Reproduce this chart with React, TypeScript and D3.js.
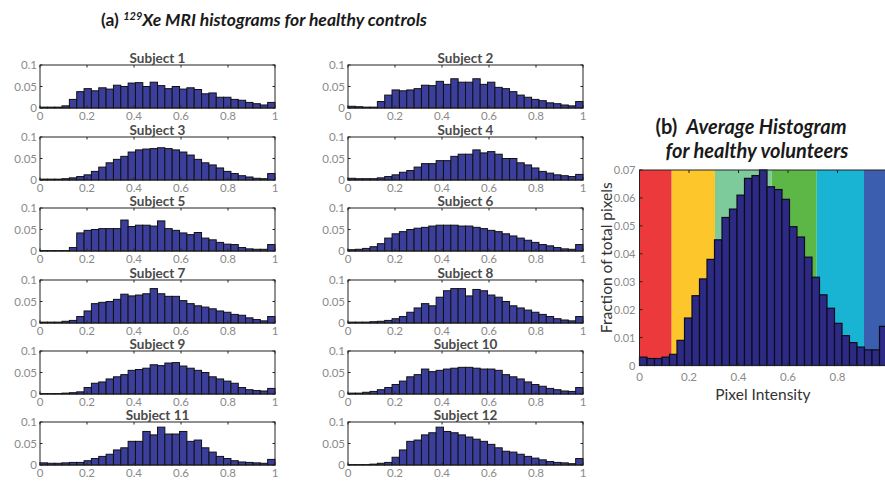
import React from "react";
import * as d3 from "d3";

const subjects = [
  "Subject 1", "Subject 2", "Subject 3", "Subject 4", "Subject 5", "Subject 6",
  "Subject 7", "Subject 8", "Subject 9", "Subject 10", "Subject 11", "Subject 12",
];

const s1 = [0.002,0.002,0.002,0.005,0.02,0.038,0.045,0.04,0.047,0.044,0.053,0.05,0.058,0.059,0.05,0.06,0.052,0.045,0.05,0.044,0.047,0.043,0.033,0.035,0.025,0.025,0.02,0.018,0.013,0.01,0.007,0.013];
const s2 = [0.004,0.003,0.002,0.002,0.015,0.03,0.042,0.04,0.042,0.045,0.053,0.052,0.062,0.055,0.068,0.06,0.06,0.068,0.055,0.06,0.048,0.045,0.038,0.03,0.025,0.02,0.017,0.012,0.01,0.007,0.005,0.015];
const s3 = [0.002,0.002,0.002,0.003,0.005,0.008,0.012,0.02,0.03,0.04,0.048,0.055,0.065,0.07,0.072,0.073,0.075,0.073,0.07,0.065,0.058,0.048,0.04,0.035,0.028,0.02,0.015,0.01,0.007,0.004,0.003,0.015];
const s4 = [0.004,0.003,0.003,0.003,0.005,0.008,0.012,0.018,0.022,0.03,0.038,0.038,0.045,0.045,0.055,0.06,0.06,0.07,0.063,0.066,0.06,0.05,0.05,0.04,0.035,0.028,0.02,0.016,0.012,0.01,0.008,0.013];
const s5 = [0.001,0.001,0.001,0.001,0.008,0.042,0.048,0.05,0.052,0.052,0.052,0.072,0.057,0.06,0.06,0.058,0.07,0.052,0.048,0.042,0.038,0.043,0.03,0.026,0.02,0.016,0.015,0.008,0.005,0.004,0.004,0.015];
const s6 = [0.003,0.004,0.006,0.01,0.017,0.03,0.04,0.045,0.05,0.053,0.055,0.058,0.06,0.06,0.06,0.058,0.058,0.055,0.052,0.048,0.045,0.04,0.035,0.03,0.025,0.02,0.015,0.012,0.008,0.005,0.004,0.015];
const s7 = [0.002,0.002,0.002,0.004,0.006,0.015,0.028,0.045,0.048,0.05,0.055,0.067,0.063,0.065,0.068,0.08,0.068,0.062,0.062,0.052,0.045,0.04,0.037,0.033,0.028,0.025,0.02,0.018,0.012,0.008,0.005,0.015];
const s8 = [0.002,0.002,0.002,0.003,0.004,0.006,0.01,0.015,0.025,0.035,0.045,0.04,0.06,0.075,0.08,0.08,0.063,0.078,0.075,0.065,0.06,0.05,0.04,0.035,0.03,0.025,0.02,0.015,0.01,0.007,0.005,0.015];
const s9 = [0.001,0.001,0.001,0.002,0.003,0.005,0.015,0.025,0.028,0.035,0.04,0.045,0.055,0.057,0.06,0.068,0.066,0.072,0.073,0.065,0.06,0.055,0.05,0.04,0.035,0.03,0.025,0.015,0.01,0.008,0.007,0.013];
const s10 = [0.002,0.002,0.004,0.006,0.01,0.015,0.022,0.03,0.04,0.045,0.058,0.052,0.055,0.058,0.06,0.062,0.062,0.06,0.058,0.058,0.055,0.045,0.04,0.035,0.028,0.022,0.018,0.013,0.01,0.007,0.006,0.015];
const s11 = [0.005,0.004,0.004,0.005,0.006,0.006,0.01,0.015,0.02,0.025,0.035,0.04,0.055,0.055,0.078,0.07,0.088,0.072,0.072,0.078,0.055,0.058,0.04,0.03,0.02,0.015,0.01,0.007,0.006,0.005,0.004,0.013];
const s12 = [0.001,0.001,0.001,0.002,0.004,0.006,0.018,0.035,0.055,0.058,0.07,0.075,0.088,0.078,0.075,0.07,0.065,0.06,0.055,0.048,0.04,0.032,0.03,0.025,0.02,0.016,0.012,0.008,0.006,0.005,0.003,0.015];
const subjectValues = [s1, s2, s3, s4, s5, s6, s7, s8, s9, s10, s11, s12];

const smallXTicks = [0, 0.2, 0.4, 0.6, 0.8, 1];
const smallYTicks = [0, 0.05, 0.1];

const averageValues = [0.003,0.0025,0.0025,0.003,0.004,0.009,0.017,0.025,0.031,0.038,0.045,0.053,0.056,0.061,0.067,0.068,0.07,0.064,0.063,0.0595,0.0497,0.046,0.0388,0.0316,0.0253,0.0205,0.0151,0.0107,0.0082,0.0066,0.0056,0.0056,0.014];
const bigXTicks = [0, 0.2, 0.4, 0.6, 0.8, 1];
const bigYTicks = [0, 0.01, 0.02, 0.03, 0.04, 0.05, 0.06, 0.07];
const bandEdges = [0, 0.13, 0.305, 0.534, 0.716, 0.907, 1];
const bandColors = ["#ec3a3c", "#fdc72c", "#7dcb9a", "#5db746", "#19b4d3", "#3b5fae"];

const FONT = "Lato, 'Open Sans', sans-serif";
const GRAY = "#8a8a8a";

function fmt(v: number) {
  if (v === 0) return "0";
  return String(+v.toFixed(3));
}

function SmallHist({ x0, top, title, values }: { x0: number; top: number; title: string; values: number[] }) {
  const w = 235, h = 43;
  const x = d3.scaleLinear().domain([0, 1]).range([x0, x0 + w]);
  const y = d3.scaleLinear().domain([0, 0.1]).range([top + h, top]);
  const n = values.length;
  const bw = 1 / n;
  return (
    <g>
      {values.map((v, i) => (
        <rect key={i} x={x(i * bw)} y={y(v)} width={x((i + 1) * bw) - x(i * bw)} height={y(0) - y(v)}
          fill="#3c3e9c" stroke="#111" strokeWidth={1} />
      ))}
      <rect x={x0} y={top} width={w} height={h} fill="none" stroke="#222" strokeWidth={1} />
      {smallXTicks.map((t) => (
        <g key={"x" + t}>
          <line x1={x(t)} x2={x(t)} y1={top} y2={top + 2.5} stroke="#222" />
          <line x1={x(t)} x2={x(t)} y1={top + h} y2={top + h - 2.5} stroke="#222" />
          <text x={x(t)} y={top + h + 12} textAnchor="middle" fontSize={11.5} fill={GRAY} fontFamily={FONT}>{fmt(t)}</text>
        </g>
      ))}
      {smallYTicks.map((t) => (
        <g key={"y" + t}>
          <line x1={x0} x2={x0 + 2.5} y1={y(t)} y2={y(t)} stroke="#222" />
          <line x1={x0 + w} x2={x0 + w - 2.5} y1={y(t)} y2={y(t)} stroke="#222" />
          <text x={x0 - 3} y={y(t) + 4} textAnchor="end" fontSize={11.5} fill={GRAY} fontFamily={FONT}>{fmt(t)}</text>
        </g>
      ))}
      <text x={x0 + w / 2} y={top - 2} textAnchor="middle" fontSize={13.5} fontWeight={700} fill="#4a4a4a" fontFamily={FONT}>{title}</text>
    </g>
  );
}

function BigHist() {
  const left = 639.5, right = 887, top = 170, bottom = 365.5;
  const x = d3.scaleLinear().domain([0, 1]).range([left, right]);
  const y = d3.scaleLinear().domain([0, 0.07]).range([bottom, top]);
  const n = averageValues.length;
  const bw = 1 / n;
  return (
    <g>
      {bandColors.map((c, i) => (
        <rect key={"b" + i} x={x(bandEdges[i])} y={top} width={x(bandEdges[i + 1]) - x(bandEdges[i])} height={bottom - top} fill={c} />
      ))}
      {averageValues.map((v, i) => (
        <rect key={i} x={x(i * bw)} y={y(v)} width={x((i + 1) * bw) - x(i * bw)} height={y(0) - y(v)}
          fill="#2c2a84" stroke="#0d0d1a" strokeWidth={1.2} />
      ))}
      <rect x={left} y={top} width={right - left} height={bottom - top} fill="none" stroke="#222" strokeWidth={1} />
      {bigXTicks.map((t) => (
        <g key={"x" + t}>
          <line x1={x(t)} x2={x(t)} y1={top} y2={top + 3} stroke="#222" />
          <line x1={x(t)} x2={x(t)} y1={bottom} y2={bottom - 3} stroke="#222" />
          {t < 1 && <text x={x(t)} y={bottom + 15} textAnchor="middle" fontSize={11.5} fill={GRAY} fontFamily={FONT}>{fmt(t)}</text>}
        </g>
      ))}
      {bigYTicks.map((t) => (
        <g key={"y" + t}>
          <line x1={left} x2={left + 3} y1={y(t)} y2={y(t)} stroke="#222" />
          <text x={left - 4} y={y(t) + 4} textAnchor="end" fontSize={11} fill={GRAY} fontFamily={FONT}>{fmt(t)}</text>
        </g>
      ))}
      <text transform={`translate(612, ${(top + bottom) / 2 - 10}) rotate(-90)`} textAnchor="middle" fontSize={15.5} fill="#333" fontFamily={FONT}>Fraction of total pixels</text>
      <text x={763} y={400} textAnchor="middle" fontSize={15.5} fill="#333" fontFamily={FONT}>Pixel Intensity</text>
      <text x={751} y={134} textAnchor="middle" fontSize={20} fill="#1a1a1a" fontFamily={FONT} fontWeight={700}>
        <tspan>(b)</tspan><tspan dx={9} fontStyle="italic">Average Histogram</tspan>
      </text>
      <text x={757} y={158} textAnchor="middle" fontSize={20} fill="#1a1a1a" fontFamily={FONT} fontWeight={700} fontStyle="italic">for healthy volunteers</text>
    </g>
  );
}

export default function App() {
  const tops = [65, 137, 208, 280, 351, 422];
  const cols = [40, 348];
  return (
    <svg width={885} height={485} style={{ position: "absolute", left: 0, top: 0, background: "#fff" }}>
      <rect x={0} y={0} width={885} height={485} fill="#fff" />
      <text x={264} y={26} textAnchor="middle" fontSize={17.5} fill="#1a1a1a" fontFamily={FONT} fontWeight={700}>
        <tspan>(a) </tspan>
        <tspan fontStyle="italic" fontSize={11} dy={-6}>129</tspan>
        <tspan fontStyle="italic" dy={6}>Xe MRI histograms for healthy controls</tspan>
      </text>
      {subjectValues.map((vals, i) => (
        <SmallHist key={i} x0={cols[i % 2]} top={tops[Math.floor(i / 2)]} title={subjects[i]} values={vals} />
      ))}
      <BigHist />
    </svg>
  );
}
